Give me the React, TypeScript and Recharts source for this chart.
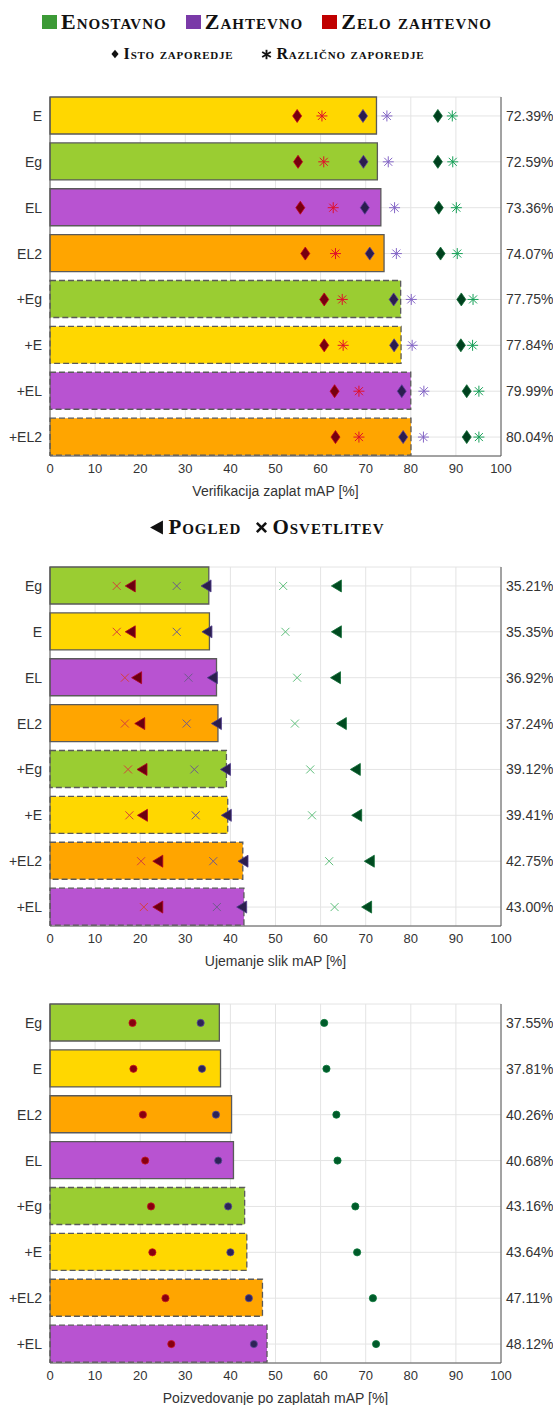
import React from "react";
import { ComposedChart, Bar, Cell, Scatter, XAxis, YAxis, CartesianGrid } from "recharts";

const XTICKS = [0, 10, 20, 30, 40, 50, 60, 70, 80, 90, 100];

// Verifikacija zaplat
const verCats = ["E", "Eg", "EL", "EL2", "+Eg", "+E", "+EL", "+EL2"];
const verMap = [72.39, 72.59, 73.36, 74.07, 77.75, 77.84, 79.99, 80.04];
const verHardSame = [54.8, 55.0, 55.5, 56.6, 60.8, 60.8, 63.1, 63.3];
const verHardDiff = [60.3, 60.7, 62.8, 63.3, 64.8, 65.0, 68.5, 68.5];
const verMedSame = [69.4, 69.5, 69.8, 70.9, 76.2, 76.3, 78.0, 78.3];
const verMedDiff = [74.7, 75.0, 76.4, 76.8, 80.1, 80.3, 82.9, 82.8];
const verEasySame = [86.0, 86.0, 86.2, 86.6, 91.2, 91.1, 92.4, 92.4];
const verEasyDiff = [89.2, 89.3, 90.1, 90.3, 93.8, 93.7, 95.1, 95.1];

// Ujemanje slik
const ujeCats = ["Eg", "E", "EL", "EL2", "+Eg", "+E", "+EL2", "+EL"];
const ujeMap = [35.21, 35.35, 36.92, 37.24, 39.12, 39.41, 42.75, 43.0];
const ujeHardView = [17.8, 17.8, 19.2, 19.9, 20.4, 20.5, 23.9, 23.9];
const ujeHardLight = [14.8, 14.8, 16.6, 16.6, 17.3, 17.6, 20.2, 20.8];
const ujeMedView = [34.6, 34.8, 36.0, 36.9, 38.9, 39.1, 42.8, 42.5];
const ujeMedLight = [28.1, 28.1, 30.7, 30.3, 32.0, 32.3, 36.2, 37.0];
const ujeEasyView = [63.5, 63.5, 63.3, 64.6, 67.7, 68.0, 70.8, 70.2];
const ujeEasyLight = [51.7, 52.2, 54.8, 54.3, 57.7, 58.1, 61.9, 63.1];

// Poizvedovanje po zaplatah
const poiCats = ["Eg", "E", "EL2", "EL", "+Eg", "+E", "+EL2", "+EL"];
const poiMap = [37.55, 37.81, 40.26, 40.68, 43.16, 43.64, 47.11, 48.12];
const poiHard = [18.3, 18.5, 20.6, 21.1, 22.4, 22.7, 25.6, 26.9];
const poiMed = [33.4, 33.7, 36.8, 37.3, 39.5, 40.0, 44.1, 45.2];
const poiEasy = [60.8, 61.3, 63.5, 63.75, 67.7, 68.1, 71.6, 72.3];

const FILL: Record<string, string> = {
  E: "#ffd700",
  Eg: "#9acd32",
  EL: "#b853d1",
  EL2: "#ffa500",
};

// marker shapes
const diamond = (fill: string, edge: string) => (p: any) => (
  <path
    d={`M${p.cx},${p.cy - 6.5}L${p.cx + 4.5},${p.cy}L${p.cx},${p.cy + 6.5}L${p.cx - 4.5},${p.cy}Z`}
    fill={fill}
    stroke={edge}
    strokeWidth={0.8}
  />
);
const star = (color: string) => (p: any) => (
  <g stroke={color} strokeWidth={1}>
    <line x1={p.cx - 5.5} y1={p.cy} x2={p.cx + 5.5} y2={p.cy} />
    <line x1={p.cx} y1={p.cy - 5.5} x2={p.cx} y2={p.cy + 5.5} />
    <line x1={p.cx - 4} y1={p.cy - 4} x2={p.cx + 4} y2={p.cy + 4} />
    <line x1={p.cx - 4} y1={p.cy + 4} x2={p.cx + 4} y2={p.cy - 4} />
  </g>
);
const triLeft = (fill: string, edge: string) => (p: any) => (
  <path
    d={`M${p.cx - 5},${p.cy}L${p.cx + 5},${p.cy - 6}L${p.cx + 5},${p.cy + 6}Z`}
    fill={fill}
    stroke={edge}
    strokeWidth={0.8}
  />
);
const cross = (color: string) => (p: any) => (
  <g stroke={color} strokeWidth={1}>
    <line x1={p.cx - 4} y1={p.cy - 4} x2={p.cx + 4} y2={p.cy + 4} />
    <line x1={p.cx - 4} y1={p.cy + 4} x2={p.cx + 4} y2={p.cy - 4} />
  </g>
);
const dot = (fill: string, edge: string) => (p: any) => (
  <circle cx={p.cx} cy={p.cy} r={3.6} fill={fill} stroke={edge} strokeWidth={0.8} />
);

type Series = { key: string; values: number[]; shape: (p: any) => React.ReactElement };

const tickStyle = { fill: "#333", fontSize: 14, fontFamily: "Liberation Sans, Arial" };

function Panel({ top, cats, map, series, title }: { top: number; cats: string[]; map: number[]; series: Series[]; title: string }) {
  const data = cats.map((name, i) => {
    const row: any = { name, map: map[i] };
    series.forEach((s) => (row[s.key] = s.values[i]));
    return row;
  });
  return (
    <div style={{ position: "absolute", left: 0, top, width: 553, height: 505 }}>
      <ComposedChart
        layout="vertical"
        width={553}
        height={505}
        data={data}
        margin={{ top: 97, right: 0, bottom: 0, left: 5 }}
      >
        <CartesianGrid stroke="#e4e4e4" />
        <XAxis
          type="number"
          domain={[0, 100]}
          ticks={XTICKS}
          height={49}
          tickLine={false}
          axisLine={{ stroke: "#555" }}
          tick={{ ...tickStyle, fontSize: 13 }}
          label={{ value: title, position: "insideBottom", offset: 9, style: { ...tickStyle, fontSize: 14 } }}
        />
        <XAxis
          xAxisId="top"
          orientation="top"
          type="number"
          domain={[0, 100]}
          ticks={XTICKS}
          height={0}
          mirror
          tickSize={4}
          tickFormatter={() => ""}
          axisLine={{ stroke: "#555" }}
          tickLine={{ stroke: "#555" }}
        />
        <YAxis
          type="category"
          dataKey="name"
          width={45}
          padding={{ top: -4, bottom: -4 }}
          tickLine={false}
          axisLine={{ stroke: "#555" }}
          tick={tickStyle}
        />
        <YAxis
          yAxisId="r"
          orientation="right"
          type="category"
          dataKey="map"
          width={52}
          padding={{ top: -4, bottom: -4 }}
          tickLine={false}
          tickSize={5}
          tickMargin={0}
          axisLine={{ stroke: "#555" }}
          tick={tickStyle}
          tickFormatter={(v: number) => `${v.toFixed(2)}%`}
        />
        <Bar dataKey="map" barSize={37} isAnimationActive={false}>
          {data.map((d) => (
            <Cell
              key={d.name}
              fill={FILL[d.name.replace("+", "")]}
              stroke="#5a5a5a"
              strokeWidth={1.3}
              strokeDasharray={d.name.startsWith("+") ? "6 3" : undefined}
            />
          ))}
        </Bar>
        {series.map((s) => (
          <Scatter key={s.key} dataKey={s.key} shape={s.shape} isAnimationActive={false} />
        ))}
      </ComposedChart>
    </div>
  );
}

const legendText: React.CSSProperties = {
  fontFamily: "Liberation Serif, Times New Roman, serif",
  fontWeight: "bold",
  fontVariant: "small-caps",
  color: "#111",
  whiteSpace: "nowrap",
};

function Swatch({ color }: { color: string }) {
  return <span style={{ display: "inline-block", width: 15, height: 14, background: color, marginRight: 4 }} />;
}

function Icon({ children, size = 14 }: { children: React.ReactNode; size?: number }) {
  return (
    <svg width={size} height={size} viewBox="-7 -7 14 14" style={{ marginRight: 4 }}>
      {children}
    </svg>
  );
}

export default function App() {
  const row = (top: number, h: number): React.CSSProperties => ({
    position: "absolute",
    left: 0,
    top,
    width: 534,
    height: h,
    display: "flex",
    alignItems: "center",
    justifyContent: "center",
  });
  return (
    <div style={{ position: "absolute", left: 0, top: 0, width: 553, height: 1405, background: "#fff", overflow: "hidden" }}>
      <Panel
        top={0}
        cats={verCats}
        map={verMap}
        title="Verifikacija zaplat mAP [%]"
        series={[
          { key: "hs", values: verHardSame, shape: diamond("#76000f", "#c4001a") },
          { key: "hd", values: verHardDiff, shape: star("#e0102a") },
          { key: "ms", values: verMedSame, shape: diamond("#2b1d4e", "#5b3c9a") },
          { key: "md", values: verMedDiff, shape: star("#8466c6") },
          { key: "es", values: verEasySame, shape: diamond("#00401e", "#0b6a31") },
          { key: "ed", values: verEasyDiff, shape: star("#17a058") },
        ]}
      />
      <Panel
        top={470}
        cats={ujeCats}
        map={ujeMap}
        title="Ujemanje slik mAP [%]"
        series={[
          { key: "hl", values: ujeHardLight, shape: cross("#d5403c") },
          { key: "hv", values: ujeHardView, shape: triLeft("#6a0010", "#b3001e") },
          { key: "ml", values: ujeMedLight, shape: cross("#6f5b8c") },
          { key: "mv", values: ujeMedView, shape: triLeft("#2b1e4e", "#4d3a8a") },
          { key: "el", values: ujeEasyLight, shape: cross("#5fbf7c") },
          { key: "ev", values: ujeEasyView, shape: triLeft("#004a20", "#0b6a31") },
        ]}
      />
      <Panel
        top={907}
        cats={poiCats}
        map={poiMap}
        title="Poizvedovanje po zaplatah mAP [%]"
        series={[
          { key: "h", values: poiHard, shape: dot("#86000f", "#c81020") },
          { key: "m", values: poiMed, shape: dot("#2d2356", "#5b4a9a") },
          { key: "e", values: poiEasy, shape: dot("#005a2a", "#0a7a3a") },
        ]}
      />

      <div style={{ ...row(8, 28), ...legendText, fontSize: 22, letterSpacing: 1 }}>
        <Swatch color="#3c9a36" />
        <span style={{ marginRight: 19 }}>Enostavno</span>
        <Swatch color="#7a3aa8" />
        <span style={{ marginRight: 19 }}>Zahtevno</span>
        <Swatch color="#c00000" />
        <span>Zelo zahtevno</span>
      </div>
      <div style={{ ...row(42, 24), ...legendText, fontSize: 16, letterSpacing: 0.8 }}>
        <Icon size={10}>
          <path d="M0,-6L5,0L0,6L-5,0Z" fill="#111" />
        </Icon>
        <span style={{ marginRight: 28 }}>Isto zaporedje</span>
        <Icon size={11}>
          <g stroke="#111" strokeWidth={2.4}>
            <line x1={0} y1={-6} x2={0} y2={6} />
            <line x1={-5.5} y1={-3.2} x2={5.5} y2={3.2} />
            <line x1={-5.5} y1={3.2} x2={5.5} y2={-3.2} />
          </g>
        </Icon>
        <span>Različno zaporedje</span>
      </div>
      <div style={{ ...row(513, 28), ...legendText, fontSize: 21, letterSpacing: 1 }}>
        <Icon size={15}>
          <path d="M-6,0L6,-6.5L6,6.5Z" fill="#111" />
        </Icon>
        <span style={{ marginRight: 14 }}>Pogled</span>
        <Icon size={13}>
          <g stroke="#111" strokeWidth={2.8}>
            <line x1={-5} y1={-5} x2={5} y2={5} />
            <line x1={-5} y1={5} x2={5} y2={-5} />
          </g>
        </Icon>
        <span>Osvetlitev</span>
      </div>
    </div>
  );
}
